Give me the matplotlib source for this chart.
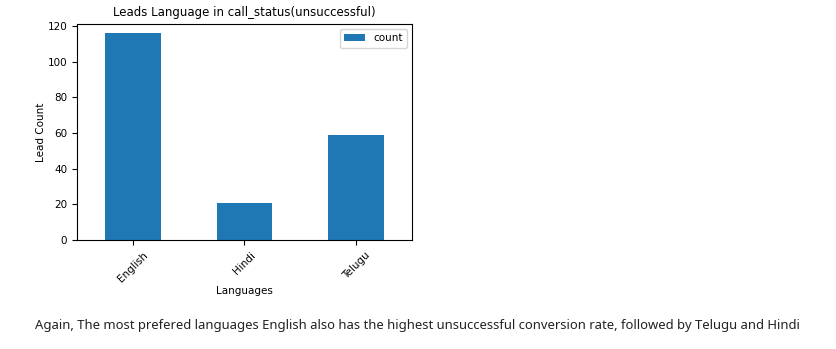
import matplotlib
matplotlib.use("Agg")
import matplotlib.pyplot as plt

languages = ["English", "Hindi", "Telugu"]
counts = [116, 21, 59]
series_name = "count"
title = "Leads Language in call_status(unsuccessful)"
xlabel = "Languages"
ylabel = "Lead Count"
caption = ("Again, The most prefered languages English also has the highest unsuccessful "
           "conversion rate, followed by Telugu and Hindi")

fig = plt.figure(figsize=(8.37, 3.49), dpi=100)
ax = fig.add_axes([0.092, 0.312, 0.400, 0.619])
x = range(len(languages))
ax.bar(x, counts, width=0.5, color="#1f77b4", label=series_name)
ax.set_xlim(-0.5, len(languages) - 0.5)
ax.set_ylim(0, max(counts) * 1.043)
ax.set_xticks(list(x))
ax.set_xticklabels(languages, rotation=45, fontsize=7.5)
ax.set_yticks([0, 20, 40, 60, 80, 100, 120])
ax.tick_params(axis="y", labelsize=7.5)
ax.set_title(title, fontsize=8.5)
ax.set_xlabel(xlabel, fontsize=7.5, labelpad=1.5)
ax.set_ylabel(ylabel, fontsize=7.5, labelpad=0.8)
ax.legend(fontsize=7.5, loc="upper right")

fig.text(0.042, 0.066, caption, fontsize=9.38, family=["Liberation Sans Narrow", "Noto Sans", "DejaVu Sans"],
         color="#222222", va="center", ha="left")

fig.savefig("out.png", dpi=100)
